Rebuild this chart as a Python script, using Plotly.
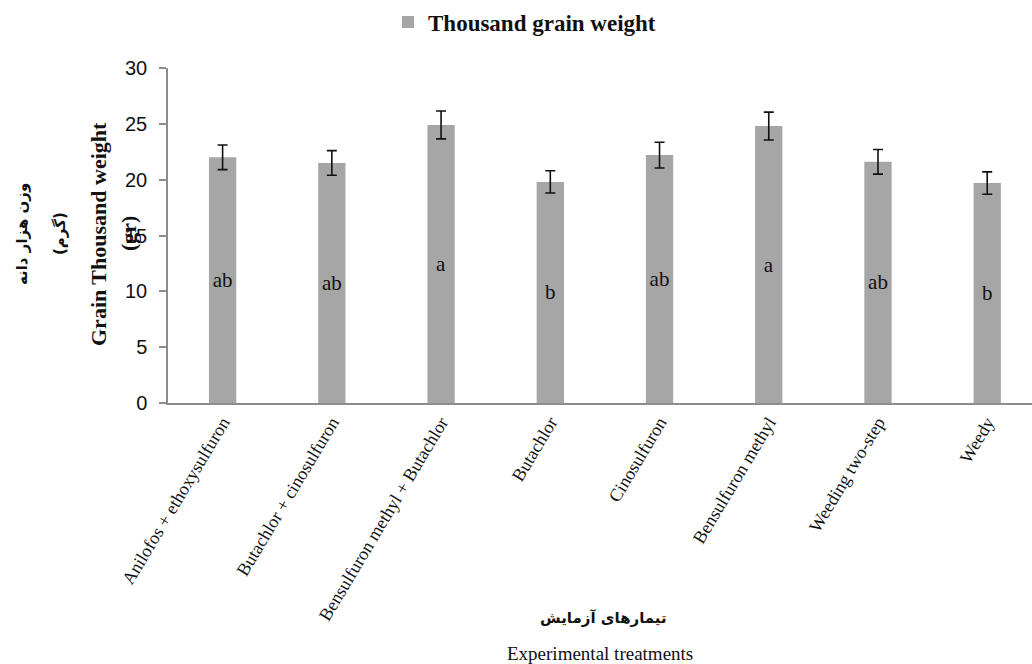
import plotly.graph_objects as go

# Treatments and measured thousand-grain weight (g) with standard errors
treatments = [
    "Anilofos + ethoxysulfuron",
    "Butachlor + cinosulfuron",
    "Bensulfuron methyl + Butachlor",
    "Butachlor",
    "Cinosulfuron",
    "Bensulfuron methyl",
    "Weeding two-step",
    "Weedy",
]
weight = [22.0, 21.5, 24.9, 19.8, 22.2, 24.8, 21.6, 19.7]
std_err = [1.1, 1.1, 1.25, 1.0, 1.15, 1.25, 1.1, 1.0]
groups = ["ab", "ab", "a", "b", "ab", "a", "ab", "b"]

W, H = 1032, 664
ML, MR, MT, MB = 168, 0, 68, 261
PW, PH = W - ML - MR, H - MT - MB


def px_x(p):
    return (p - ML) / PW


def px_y(p):
    return (H - MB - p) / PH


serif = "Liberation Serif"
ink = "#111111"

fig = go.Figure(
    go.Bar(
        x=treatments,
        y=weight,
        name="Thousand grain weight",
        width=0.25,
        marker=dict(color="#a6a6a6", line=dict(width=0)),
        error_y=dict(type="data", array=std_err, visible=True,
                     color=ink, thickness=1.6, width=5),
        text=groups,
        textposition="inside",
        insidetextanchor="middle",
        textangle=0,
        constraintext="none",
        textfont=dict(family=serif, size=21, color=ink),
        hoverinfo="x+y",
    )
)

fig.update_layout(
    width=W,
    height=H,
    margin=dict(l=ML, r=MR, t=MT, b=MB, autoexpand=False),
    paper_bgcolor="white",
    plot_bgcolor="white",
    showlegend=True,
    legend=dict(
        orientation="h",
        x=px_x(388), y=px_y(22), xanchor="left", yanchor="middle",
        font=dict(family=serif, size=23, color=ink, weight="bold"),
        itemwidth=30,
        bgcolor="rgba(0,0,0,0)",
    ),
    xaxis=dict(
        range=[-0.5, 7.41],
        tickangle=-59,
        tickfont=dict(family=serif, size=18, color=ink),
        showline=True, linecolor="#8c8c8c", linewidth=1.5,
        ticks="", showgrid=False, zeroline=False,
    ),
    yaxis=dict(
        range=[0, 30],
        tickvals=[0, 5, 10, 15, 20, 25, 30],
        tickfont=dict(family="Liberation Sans", size=20, color=ink),
        ticklabelstandoff=8,
        showline=True, linecolor="#8c8c8c", linewidth=1.5,
        ticks="outside", ticklen=7, tickcolor="#8c8c8c", tickwidth=1.5,
        showgrid=False, zeroline=False,
    ),
    annotations=[
        dict(text="Grain Thousand weight", textangle=-90,
             x=px_x(98), y=px_y(234), xref="paper", yref="paper",
             showarrow=False, xanchor="center", yanchor="middle",
             font=dict(family=serif, size=22, color=ink, weight="bold")),
        dict(text="(gr)", textangle=-90,
             x=px_x(128), y=px_y(234), xref="paper", yref="paper",
             showarrow=False, xanchor="center", yanchor="middle",
             font=dict(family=serif, size=22, color=ink, weight="bold")),
        dict(text="وزن هزار دانه", textangle=-90,
             x=px_x(22), y=px_y(234), xref="paper", yref="paper",
             showarrow=False, xanchor="center", yanchor="middle",
             font=dict(family="DejaVu Sans", size=15, color=ink, weight="bold")),
        dict(text="(گرم)", textangle=-90,
             x=px_x(60), y=px_y(234), xref="paper", yref="paper",
             showarrow=False, xanchor="center", yanchor="middle",
             font=dict(family="DejaVu Sans", size=15, color=ink, weight="bold")),
        dict(text="تیمارهای آزمایش",
             x=px_x(603), y=px_y(618), xref="paper", yref="paper",
             showarrow=False, xanchor="center", yanchor="middle",
             font=dict(family="DejaVu Sans", size=15, color=ink, weight="bold")),
        dict(text="Experimental treatments",
             x=px_x(600), y=px_y(653), xref="paper", yref="paper",
             showarrow=False, xanchor="center", yanchor="middle",
             font=dict(family=serif, size=19, color=ink)),
    ],
)

fig.write_html("out.html")
